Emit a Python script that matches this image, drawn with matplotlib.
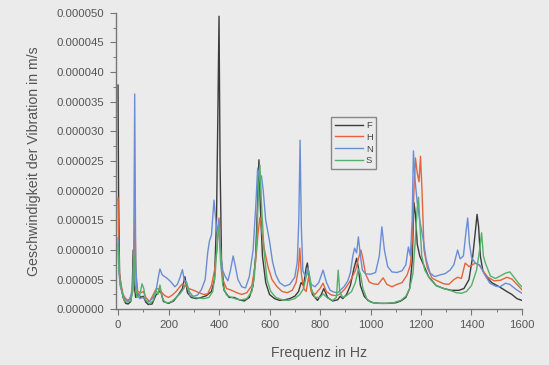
import matplotlib
matplotlib.use("Agg")
import matplotlib.pyplot as plt
from matplotlib.ticker import MultipleLocator, FormatStrFormatter

# values, in 1e-6 m/s
scale = 1e-6

f_F = [0, 2, 6, 12, 20, 30, 40, 50, 56, 60, 64, 70, 80, 90, 100, 110, 120, 135,
       150, 160, 168, 180, 200, 220, 240, 255, 265, 275, 290, 310, 330, 350, 370,
       382, 390, 396, 400, 404, 410, 420, 440, 460, 480, 500, 520, 535, 545, 552,
       558, 564, 572, 585, 600, 620, 640, 660, 680, 700, 715, 725, 735, 745, 750,
       758, 770, 790, 805, 815, 830, 850, 870, 880, 890, 905, 920, 935, 945, 952,
       960, 975, 990, 1010, 1040, 1070, 1100, 1120, 1140, 1155, 1165, 1172, 1178,
       1185, 1195, 1210, 1230, 1260, 1290, 1320, 1350, 1370, 1390, 1405, 1415,
       1422, 1428, 1435, 1445, 1460, 1480, 1510, 1540, 1560, 1580, 1600]
v_F = [37.8, 20, 6, 3.8, 2, 1, 0.9, 1.3, 3, 10, 4, 2, 2.6, 2, 2.2, 1.2, 0.8, 0.9,
       2.4, 2.8, 3.2, 1.3, 1, 1.4, 2.5, 3.5, 5.5, 2.8, 2, 1.8, 2, 2.3, 3,
       5, 15, 35, 49.4, 25, 8, 3.2, 2, 2, 1.6, 1.4, 2, 4, 9, 17,
       25.2, 17, 9, 4.5, 2.5, 1.8, 1.5, 1.6, 1.8, 2.2, 3, 4.5, 4, 7, 7.8,
       5, 2.5, 1.5, 2.5, 3.5, 2, 1.4, 1.6, 2.2, 1.8, 2.5, 4, 7, 8.6, 7,
       4, 2.2, 1.5, 1.1, 1, 1, 1.1, 1.4, 2, 3.5, 8, 18, 16,
       11, 9, 7.5, 5.5, 4, 3.5, 3.2, 3.2, 3.5, 5, 9, 13,
       16, 14, 9, 6.5, 5.4, 4.5, 3.8, 3, 2.5, 1.8, 1.5]

f_H = [0, 2, 6, 12, 20, 30, 40, 50, 58, 63, 67, 71, 78, 90, 100, 110, 125, 140,
       150, 160, 170, 185, 200, 215, 230, 245, 255, 265, 280, 300, 320, 340, 355,
       370, 382, 392, 400, 406, 415, 430, 450, 470, 490, 510, 530, 545, 555, 562,
       570, 580, 595, 610, 630, 650, 670, 690, 705, 715, 720, 726, 735, 745, 755,
       765, 780, 800, 812, 825, 845, 865, 880, 900, 920, 940, 955, 962, 970, 980,
       995, 1010, 1030, 1050, 1065, 1085, 1105, 1125, 1145, 1158, 1166, 1172, 1178,
       1185, 1192, 1198, 1204, 1212, 1225, 1245, 1265, 1290, 1310, 1330, 1345,
       1360, 1375, 1390, 1400, 1415, 1430, 1445, 1465, 1490, 1515, 1540, 1560,
       1580, 1600]
v_H = [18.8, 12, 6, 4.2, 2.5, 1.8, 1.5, 2, 3, 8, 15.4, 6, 3, 2.8, 3, 2, 1.3, 2.5,
       3.4, 3.5, 3, 2.3, 2, 2.4, 3, 3.8, 4.3, 4, 3.5, 3.2, 2.8, 2.5, 2.6,
       4, 6.5, 10, 15.4, 10, 5, 3.5, 3.2, 2.8, 2.5, 2.8, 4, 8, 13, 15.5,
       13, 10, 7, 5, 3.8, 3, 2.8, 3.2, 4.5, 7, 10.3, 6, 3.5, 3, 5.5,
       3, 2.5, 3.5, 4.4, 3, 2.4, 2.3, 2.6, 3.5, 4.8, 6.5, 9, 10, 8.5, 6,
       4.6, 4.3, 4.2, 5.3, 4.2, 3.8, 4.2, 4.5, 5.8, 7.5, 12, 20, 25.5,
       23, 21.5, 25.8, 20, 10, 7, 5.2, 4.8, 4.3, 4.2, 5, 5.4,
       5.2, 7.8, 7.2, 7.4, 7.8, 7.5, 6.5, 5.4, 4.8, 4.9, 5.4, 5.1,
       4.2, 3.3]

f_N = [0, 3, 8, 15, 25, 35, 45, 52, 58, 62, 66, 70, 75, 85, 100, 115, 125, 140,
       150, 160, 166, 175, 185, 195, 210, 225, 235, 245, 255, 262, 270, 285, 300,
       315, 330, 345, 355, 362, 370, 376, 380, 385, 392, 400, 407, 415, 425, 435,
       445, 456, 465, 475, 490, 505, 520, 535, 545, 553, 560, 568, 575, 585, 600,
       612, 625, 640, 660, 680, 700, 710, 716, 721, 726, 732, 742, 752, 765, 780,
       795, 812, 825, 840, 855, 870, 880, 895, 910, 920, 930, 937, 945, 952, 960,
       968, 980, 1000, 1020, 1035, 1045, 1055, 1068, 1085, 1105, 1125, 1140, 1150,
       1158, 1165, 1170, 1176, 1185, 1195, 1209, 1220, 1236, 1255, 1275, 1295,
       1315, 1330, 1345, 1355, 1368, 1378, 1385, 1392, 1400, 1414, 1434, 1450,
       1473, 1495, 1513, 1535, 1552, 1575, 1600]
v_N = [12, 7, 4, 3, 1.8, 1.4, 1.6, 2.5, 4, 8.5, 36.3, 8, 3, 1.8, 2, 1.3, 1.4, 2,
       3, 5.5, 6.8, 5.8, 5.5, 5.2, 4.6, 3.8, 4.2, 5.3, 6.7, 5, 4.6, 2.3, 2.2,
       2.4, 3.3, 5, 9.5, 11.5, 12.5, 16, 18.4, 16, 13, 15, 9, 6.5, 5.5, 4.8,
       6.5, 9, 7.2, 5, 3.8, 3.6, 5.5, 10, 17, 23.8, 22, 22.5, 20, 15, 11.5,
       8, 5.8, 4.5, 3.9, 4.2, 5.4, 8, 15, 28.5, 14, 6.5, 5.5, 7, 4.2, 3.8,
       4.5, 6.6, 4.6, 3.2, 2.9, 2.8, 3.2, 3.8, 4.8, 6.1, 9, 10.3, 9.5, 12.2, 9,
       6.6, 6, 5.9, 6.2, 9, 13.9, 10, 7.2, 6.3, 6.2, 6.5, 7.5, 10.5,
       9, 15, 26.7, 22, 18, 15, 11.7, 8.5, 6.1, 5.5, 5.8, 6,
       6.6, 7.5, 10, 8.5, 9, 13, 15.4, 11, 8.8, 7.8, 7.4, 6,
       4.4, 3.9, 3.8, 4.4, 4.2, 3.4, 2.7]

f_S = [0, 3, 8, 15, 25, 35, 50, 58, 63, 68, 75, 85, 95, 102, 110, 125, 140, 150,
       158, 166, 175, 185, 200, 215, 230, 245, 260, 272, 282, 300, 320, 340, 360,
       375, 385, 392, 400, 406, 415, 430, 450, 470, 490, 510, 530, 540, 550, 556,
       562, 568, 578, 590, 605, 625, 650, 675, 700, 720, 735, 745, 755, 765, 780,
       800, 812, 830, 850, 865, 872, 878, 890, 905, 925, 940, 952, 960, 970, 985,
       1000, 1030, 1060, 1090, 1120, 1140, 1155, 1168, 1178, 1185, 1190, 1196,
       1203, 1215, 1236, 1260, 1290, 1315, 1340, 1360, 1380, 1400, 1420, 1432,
       1440, 1447, 1455, 1475, 1495, 1513, 1535, 1552, 1570, 1590, 1600]
v_S = [11, 7, 4.5, 3, 1.4, 1.2, 1.4, 3, 9.6, 4, 2, 2.2, 4.3, 3.5, 1.5, 0.9, 1.5, 3.3,
       2.5, 4.1, 2, 1.2, 1.1, 1.4, 2, 2.6, 3.5, 4.5, 3, 2, 1.9, 1.8, 2,
       3, 6, 11, 14, 8, 4, 2.4, 2, 1.7, 1.6, 1.8, 3, 5.5, 12, 20,
       24.3, 18, 10, 5, 3, 2, 1.6, 1.5, 1.8, 2.5, 3.5, 5.5, 6.5, 3.5, 2,
       2, 2.6, 1.9, 1.5, 2, 6.6, 3, 2, 2.3, 3, 4.5, 6.8, 6, 3.5, 1.8,
       1.2, 1, 1, 1.1, 1.5, 2.2, 3.5, 6, 12, 17, 18.9, 14,
       9, 6.6, 5.1, 4, 3.5, 3.2, 2.8, 2.7, 3, 4, 6.6, 10,
       12.9, 9, 7.8, 5.6, 5.2, 5.6, 6.1, 6.3, 5.3, 4.2, 3.8]

series = [("F", f_F, v_F, "#3b3b3b"),
          ("H", f_H, v_H, "#e2653c"),
          ("N", f_N, v_N, "#6a8dd4"),
          ("S", f_S, v_S, "#55b06a")]

bg = "#ebebec"
plt.rcParams["font.family"] = ["Liberation Sans", "DejaVu Sans"]

fig = plt.figure(figsize=(5.49, 3.65), dpi=100, facecolor=bg)
ax = fig.add_axes([0.2104, 0.1526, 0.7404, 0.8126])
ax.set_facecolor(bg)

for name, f, v, c in series:
    ax.plot(f, [x * scale for x in v], color=c, lw=1.0, label=name)

ax.set_xlim(-10, 1600)
ax.set_ylim(0, 0.00005)
ax.xaxis.set_major_locator(MultipleLocator(200))
ax.xaxis.set_minor_locator(MultipleLocator(100))
ax.yaxis.set_major_locator(MultipleLocator(0.000005))
ax.yaxis.set_minor_locator(MultipleLocator(0.0000025))
ax.yaxis.set_major_formatter(FormatStrFormatter("%.6f"))

for s in ["top", "right"]:
    ax.spines[s].set_visible(False)
for s in ["left", "bottom"]:
    ax.spines[s].set_color("#777777")
    ax.spines[s].set_linewidth(1.0)

ax.tick_params(which="major", length=4, width=0.8, color="#777777",
               labelsize=8.2, labelcolor="#555555", pad=4)
ax.tick_params(which="minor", length=2.5, width=0.7, color="#777777")

ax.set_xlabel("Frequenz in Hz", fontsize=10.2, color="#555555", labelpad=11)
ax.set_ylabel("Geschwindigkeit der Vibration in m/s", fontsize=10.2,
              color="#555555", labelpad=11)

leg = ax.legend(loc="upper left", bbox_to_anchor=(0.53, 0.648), fontsize=6.8,
                handlelength=3.0, handletextpad=0.3, labelspacing=0.3,
                borderpad=0.4, frameon=True, fancybox=False,
                facecolor=bg, edgecolor="#888888", framealpha=1,
                borderaxespad=0)
leg.get_frame().set_linewidth(1.0)
for t in leg.get_texts():
    t.set_color("#444444")

fig.savefig("out.png", dpi=100, facecolor=bg)
